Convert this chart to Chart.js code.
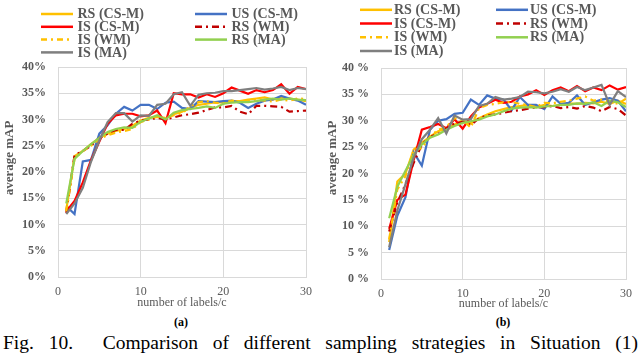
<!DOCTYPE html>
<html>
<head>
<meta charset="utf-8">
<script src="https://cdn.jsdelivr.net/npm/chart.js@4.4.1/dist/chart.umd.min.js"></script>
<style>
  body { margin: 0; background: #fff; }
  #wrap { position: relative; width: 640px; height: 354px; overflow: hidden; font-family: "Liberation Serif", "DejaVu Serif", serif; }
  .cv { position: absolute; top: 0; }
  .sub { position: absolute; top: 315px; font-weight: bold; font-size: 12px; color: #000; transform: translateX(-50%); }
  #caption { position: absolute; left: 3px; top: 332px; width: 635px; font-size: 19.5px; color: #000;
             text-align: justify; text-align-last: justify; white-space: nowrap; }
</style>
</head>
<body>
<div id="wrap">
  <div class="cv" style="left:0"><canvas id="chartA" width="320" height="310"></canvas></div>
  <div class="cv" style="left:320px"><canvas id="chartB" width="320" height="310"></canvas></div>
  <div class="sub" style="left:181px">(a)</div>
  <div class="sub" style="left:503px">(b)</div>
  <div id="caption">Fig. 10.&nbsp; Comparison of different sampling strategies in Situation (1)</div>
</div>
<script>
// x values: number of labels per class
const labelsPerClass = [1, 2, 3, 4, 5, 6, 7, 8, 9, 10, 11, 12, 13, 14, 15, 16, 17, 18, 19, 20, 21, 22, 23, 24, 25, 26, 27, 28, 29, 30];
const seriesNames = ['RS (CS-M)', 'US (CS-M)', 'IS (CS-M)', 'RS (WM)', 'IS (WM)', 'RS (MA)', 'IS (MA)'];
const yTicks = [0, 5, 10, 15, 20, 25, 30, 35, 40];
const xTicks = [0, 10, 20, 30];

// (a) average mAP in %
const a_rsCSM = [12.8, 23, 24, 25.3, 26.5, 27.3, 27.8, 28.2, 28.8, 29.8, 30.3, 30.5, 30.2, 31, 31.5, 32.2, 32.8, 33, 33.3, 33.2, 33.5, 33.5, 33.8, 34, 34.2, 33.8, 34.2, 34, 33.8, 33.5];
const a_usCSM = [13.5, 12, 22, 22.3, 27.3, 28.9, 31.1, 32.4, 31.7, 32.8, 32.8, 32, 33.2, 33.4, 32.2, 32, 33.5, 33.4, 33.3, 33.5, 33.6, 33.2, 32.2, 33, 33.6, 33.8, 34.5, 34, 33.6, 32.8];
const a_isCSM = [12.5, 14.5, 18, 22.3, 25.8, 29.2, 30.8, 31.1, 31.1, 30.6, 30.8, 31.7, 29.3, 35, 34.8, 34.8, 34.2, 34.8, 34.3, 35, 36.1, 35.5, 34.9, 35.6, 35.2, 35.6, 36.7, 34.9, 36.2, 35.8];
const a_rsWM = [12.2, 23.2, 24, 25, 26.5, 27.3, 28, 28, 29.2, 29.8, 30, 30.3, 30, 30.4, 30.8, 31, 31.3, 31.8, 32.3, 32.3, 32.6, 31.5, 31, 32.6, 32.6, 32.5, 32.4, 31.5, 31.6, 31.7];
const a_isWM = [12.5, 22.5, 24, 25, 26.3, 27, 27.5, 27.8, 28.2, 29.5, 30, 30.6, 30.3, 30.8, 31.2, 32.5, 33.3, 33.5, 33.2, 33, 33.6, 33.4, 33.5, 33.8, 33.6, 33.4, 33.8, 33.6, 34, 33.9];
const a_rsMA = [14, 22.5, 24, 25.3, 26.5, 27.6, 28.2, 28.5, 28.4, 29.6, 30.2, 30.8, 30, 31.3, 31.8, 32, 32.2, 32.5, 32.2, 33, 33.2, 33.3, 33.3, 33.5, 33.8, 34, 33.8, 34, 33.8, 33.7];
const a_isMA = [12, 14, 17, 22, 26, 29.5, 31.2, 31.2, 29.6, 30.8, 30.7, 32.8, 33, 34.8, 35.2, 32.6, 34.7, 35, 35.1, 35.4, 35.4, 35.6, 35.8, 36, 35.7, 35.9, 36.2, 35.6, 36, 35.8];

// (b) average mAP in %
const b_rsCSM = [7, 18.5, 20, 24.5, 25.8, 27, 28, 28.5, 29.3, 30, 29.5, 30.5, 31.2, 31.8, 32.2, 32.6, 32.8, 33, 32.6, 33, 32.8, 33, 33.3, 33.2, 33.4, 33.3, 33.6, 33.2, 33.8, 33.2];
const b_usCSM = [5.5, 12, 15.5, 24, 21.5, 28.3, 30, 30.3, 31.3, 31.5, 34, 33, 34.8, 34.2, 34, 32, 34.5, 33, 33, 32.2, 34.6, 33.2, 33.4, 34.8, 33, 33.5, 34, 34.3, 33.8, 31.8];
const b_isCSM = [9.5, 15, 16, 22.5, 28.3, 28.8, 29.4, 28.6, 30.3, 28.5, 30.8, 32.5, 33.2, 34, 33.4, 33.6, 34.6, 35, 35.8, 34.9, 35.8, 36.3, 35.6, 36.6, 35.6, 36.3, 35.8, 36.7, 35.9, 36.4];
const b_rsWM = [9, 14.5, 18, 22, 25.5, 27, 27.5, 28.5, 29.5, 29.8, 29.2, 30.5, 31, 31.2, 31.5, 31.8, 32, 32.3, 32.5, 32.6, 32.8, 32.4, 32.6, 32.3, 32.8, 32.5, 31.8, 32.6, 32.2, 31];
const b_isWM = [7.5, 17, 19.5, 24.5, 24.8, 27, 28.3, 28.8, 30.5, 30.2, 28.7, 32.4, 33, 33.2, 33.5, 33.6, 33.2, 33, 32.6, 33.4, 33.3, 33.6, 33.8, 34.2, 34.6, 33.8, 34, 33.6, 33.2, 34.2];
const b_rsMA = [11.5, 17.5, 20.5, 23.5, 25.5, 26.8, 27.4, 28.3, 29, 29.6, 29.9, 30.2, 30.8, 31.2, 31.8, 32.3, 32.5, 32.6, 32.5, 32.7, 32.8, 33, 33, 33.3, 33.2, 33.5, 32.8, 33.8, 33.5, 32.6];
const b_isMA = [6, 13, 18, 23, 26.5, 28.3, 30.5, 27.6, 31, 30.2, 30.3, 32.8, 33.2, 34.5, 34, 34.2, 34.5, 35.5, 35.4, 35.2, 35.5, 36, 35.5, 36.4, 35.8, 36.3, 36.8, 33, 35.6, 34.5];

const styles = [
  { color: '#FFC000', dash: [] },
  { color: '#4472C4', dash: [] },
  { color: '#FF0000', dash: [] },
  { color: '#C00000', dash: [7, 4, 2, 4] },
  { color: '#FFC000', dash: [6, 4, 2, 4] },
  { color: '#92D050', dash: [] },
  { color: '#7F7F7F', dash: [] },
];

const GRAY = '#595959';
const GRID = '#d9d9d9';
const SERIF = '"Liberation Serif", "DejaVu Serif", serif';

// legend in two columns + axis titles, drawn on top of the chart
const gridLegend = {
  id: 'gridLegend',
  afterDraw(chart, args, o) {
    const ctx = chart.ctx;
    ctx.save();
    chart.data.datasets.forEach((ds, i) => {
      const x0 = o.cols[i % 2], y = o.rows[Math.floor(i / 2)];
      ctx.strokeStyle = ds.borderColor;
      ctx.lineWidth = 2.5;
      ctx.setLineDash(ds.borderDash || []);
      ctx.beginPath();
      ctx.moveTo(x0, y);
      ctx.lineTo(x0 + o.lineLen, y);
      ctx.stroke();
      ctx.setLineDash([]);
      ctx.fillStyle = GRAY;
      ctx.font = 'bold 14px ' + SERIF;
      ctx.textBaseline = 'middle';
      ctx.fillText(ds.label, x0 + o.lineLen + o.gap, y + 0.5);
    });
    const area = chart.chartArea;
    ctx.fillStyle = GRAY;
    ctx.textAlign = 'center';
    ctx.textBaseline = 'middle';
    ctx.font = '12px ' + SERIF;
    ctx.fillText('number of labels/c', (area.left + area.right) / 2, o.xTitleY);
    ctx.translate(o.yTitleX, o.yTitleY);
    ctx.rotate(-Math.PI / 2);
    ctx.font = 'bold 13px ' + SERIF;
    ctx.fillText('average mAP', 0, 0);
    ctx.restore();
  }
};

function makeChart(id, series, geo) {
  const datasets = series.map((vals, i) => ({
    label: seriesNames[i],
    data: labelsPerClass.map((x, k) => ({ x: x, y: vals[k] })),
    borderColor: styles[i].color,
    borderDash: styles[i].dash,
    borderWidth: 2.2,
    pointRadius: 0,
    tension: 0,
    fill: false,
    order: series.length - i
  }));
  return new Chart(document.getElementById(id), {
    type: 'line',
    data: { datasets: datasets },
    plugins: [gridLegend],
    options: {
      responsive: false,
      animation: false,
      layout: { padding: { top: geo.top, right: geo.right, left: 0, bottom: 0 } },
      plugins: {
        legend: { display: false },
        tooltip: { enabled: false },
        gridLegend: geo.legend
      },
      scales: {
        x: {
          type: 'linear',
          min: 0,
          max: 30,
          afterBuildTicks: s => { s.ticks = xTicks.map(v => ({ value: v })); },
          afterFit: s => { s.height = geo.xHeight; },
          grid: { color: GRID, drawTicks: false },
          border: { color: GRID },
          ticks: { color: GRAY, padding: 8, maxRotation: 0, font: { family: SERIF, size: 12 } }
        },
        y: {
          min: 0,
          max: 40,
          afterBuildTicks: s => { s.ticks = yTicks.map(v => ({ value: v })); },
          afterFit: s => { s.width = geo.left; },
          grid: { color: GRID, drawTicks: false },
          border: { color: GRID },
          ticks: {
            color: GRAY,
            padding: 12,
            font: { family: SERIF, size: 12, weight: 'bold' },
            callback: v => v + geo.unit
          }
        }
      }
    }
  });
}

makeChart('chartA', [a_rsCSM, a_usCSM, a_isCSM, a_rsWM, a_isWM, a_rsMA, a_isMA], {
  top: 67, right: 10, left: 58, xHeight: 33, unit: '%',
  legend: { cols: [41, 195], rows: [14, 26.8, 39.6, 52.4], lineLen: 32, gap: 4.5, xTitleY: 303, yTitleX: 10, yTitleY: 158 }
});
makeChart('chartB', [b_rsCSM, b_usCSM, b_isCSM, b_rsWM, b_isWM, b_rsMA, b_isMA], {
  top: 68, right: 7, left: 61, xHeight: 31, unit: ' %',
  legend: { cols: [40, 176], rows: [9.8, 23.5, 37.3, 51], lineLen: 32, gap: 2, xTitleY: 304, yTitleX: 13, yTitleY: 158 }
});
</script>
</body>
</html>
